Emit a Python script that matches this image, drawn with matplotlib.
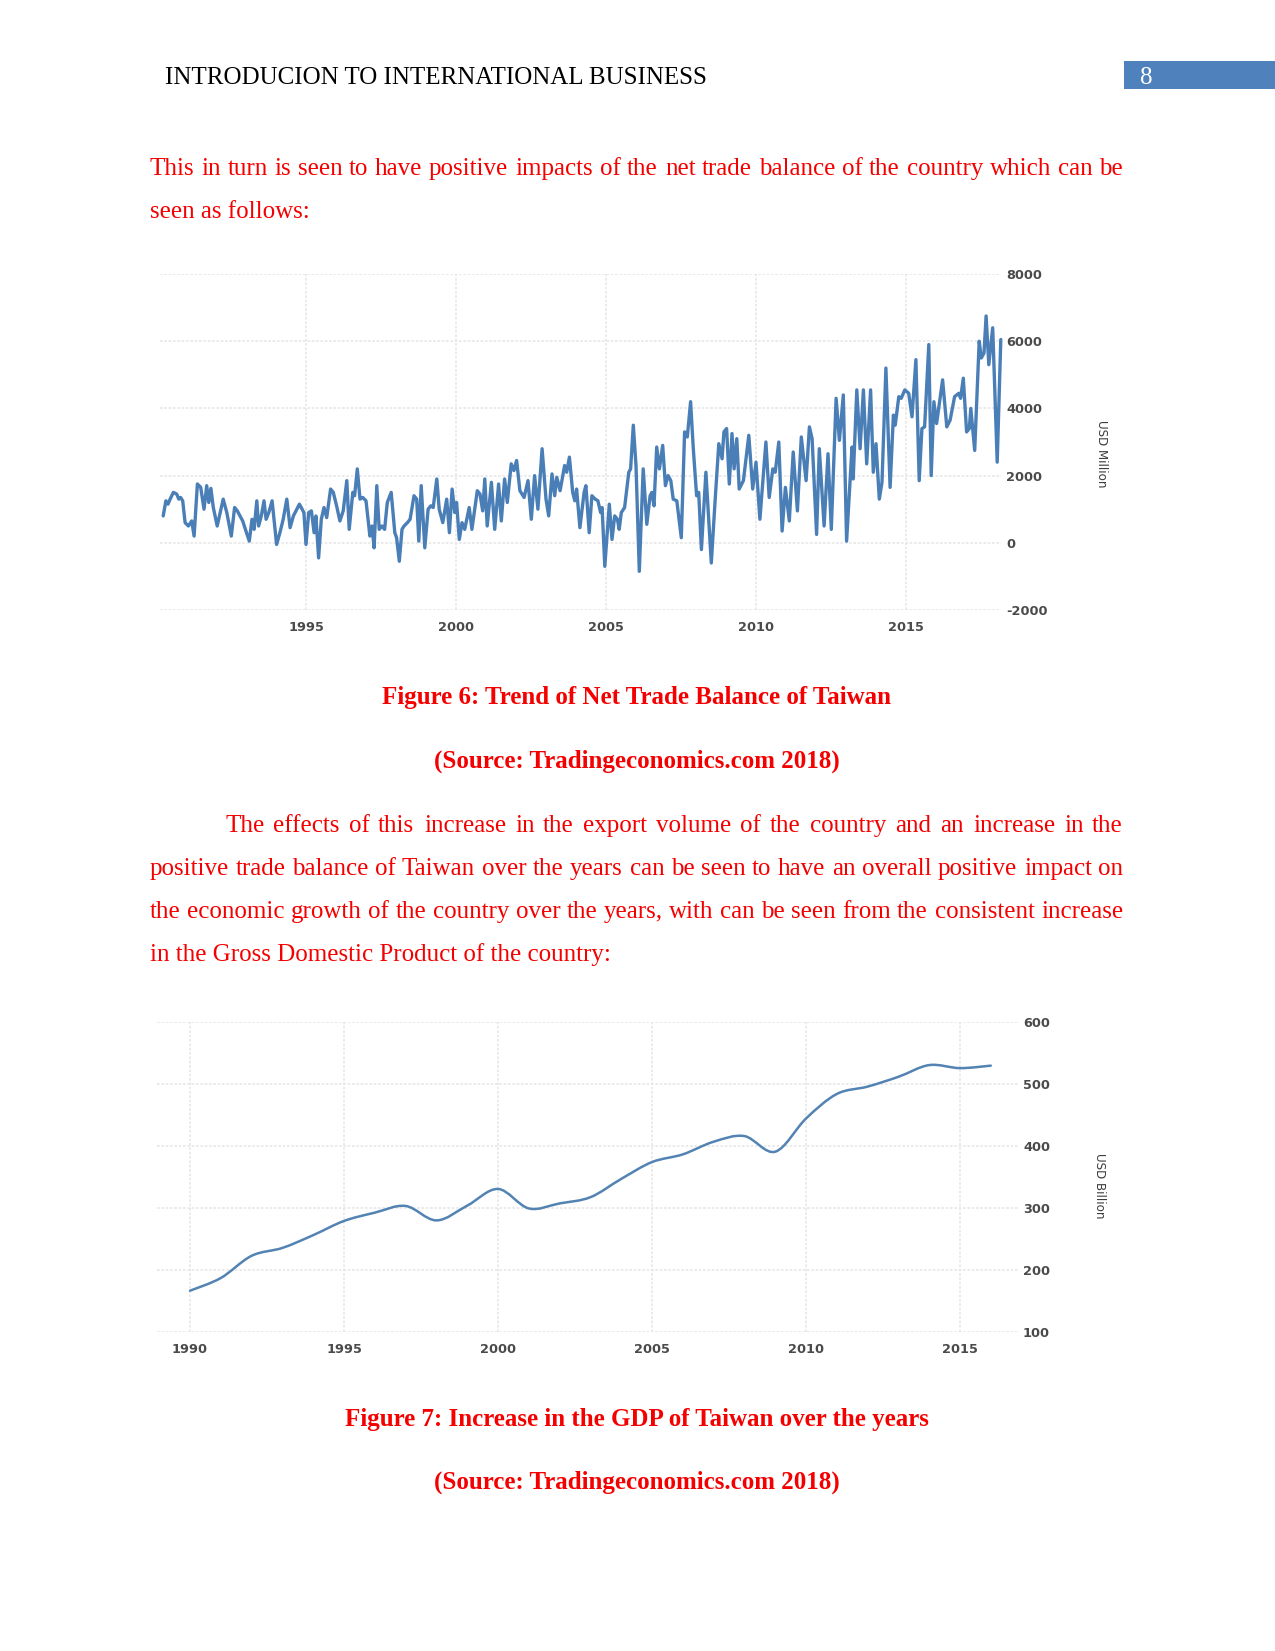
import matplotlib
matplotlib.use("Agg")
import matplotlib.pyplot as plt
from matplotlib.path import Path
from matplotlib.patches import PathPatch, Rectangle
import numpy as np

# ---------------- data ----------------
trade_dates = [
    1990.24, 1990.33, 1990.40, 1990.47, 1990.58, 1990.69, 1990.76, 1990.82, 1990.89, 1990.97,
    1991.08, 1991.19, 1991.27, 1991.38, 1991.49, 1991.60, 1991.69, 1991.76, 1991.83, 1991.91,
    1992.04, 1992.24, 1992.36, 1992.51, 1992.62, 1992.71, 1992.80, 1992.89, 1992.98,
    1993.11, 1993.20, 1993.27, 1993.36, 1993.42, 1993.51, 1993.60, 1993.67, 1993.76, 1993.87,
    1994.02, 1994.13, 1994.24, 1994.36, 1994.47, 1994.58, 1994.78, 1994.93,
    1995.00, 1995.09, 1995.18, 1995.27, 1995.33, 1995.42, 1995.51, 1995.60, 1995.69, 1995.82, 1995.91,
    1996.02, 1996.13, 1996.24, 1996.36, 1996.44, 1996.56, 1996.62, 1996.71, 1996.80, 1996.89,
    1997.00, 1997.13, 1997.20, 1997.27, 1997.36, 1997.44, 1997.53, 1997.62, 1997.71, 1997.84, 1997.96,
    1998.02, 1998.11, 1998.20, 1998.27, 1998.38, 1998.47, 1998.60, 1998.69, 1998.76, 1998.84, 1998.96,
    1999.07, 1999.16, 1999.24, 1999.36, 1999.44, 1999.56,
    1999.69, 1999.78, 1999.87, 1999.96,
    2000.02, 2000.11, 2000.20, 2000.29, 2000.44, 2000.53, 2000.71, 2000.80, 2000.89, 2000.96,
    2001.04, 2001.18, 2001.29, 2001.42, 2001.51, 2001.62, 2001.71, 2001.84, 2001.93,
    2002.02, 2002.13, 2002.27, 2002.40, 2002.51, 2002.62, 2002.73, 2002.87,
    2003.00, 2003.09, 2003.20, 2003.29, 2003.36, 2003.47, 2003.62, 2003.69, 2003.78, 2003.89, 2003.96,
    2004.02, 2004.13, 2004.27,
    2004.33, 2004.44, 2004.53, 2004.64, 2004.73, 2004.82, 2004.87, 2004.96,
    2005.11, 2005.20, 2005.29, 2005.38, 2005.44, 2005.51, 2005.62, 2005.76, 2005.82, 2005.91,
    2006.00, 2006.11, 2006.24, 2006.36, 2006.47, 2006.53, 2006.60, 2006.69, 2006.78, 2006.89, 2006.98,
    2007.07, 2007.16, 2007.24, 2007.36, 2007.51, 2007.62, 2007.71, 2007.82, 2007.91,
    2008.02, 2008.09, 2008.18, 2008.33, 2008.51, 2008.64, 2008.76, 2008.87, 2008.93,
    2009.02, 2009.11, 2009.20, 2009.27, 2009.36, 2009.44, 2009.58, 2009.76, 2009.89,
    2010.00, 2010.13, 2010.33, 2010.44, 2010.56, 2010.64, 2010.76, 2010.87, 2010.98,
    2011.11, 2011.24, 2011.38, 2011.51, 2011.67, 2011.78, 2011.87,
    2012.02, 2012.11, 2012.27, 2012.40, 2012.51, 2012.67, 2012.78, 2012.91,
    2013.02, 2013.20, 2013.24, 2013.36, 2013.47, 2013.58,
    2013.69, 2013.82, 2013.91,
    2014.00, 2014.11, 2014.20, 2014.33, 2014.47, 2014.58, 2014.64, 2014.76, 2014.84, 2014.96,
    2015.09, 2015.20, 2015.33, 2015.44, 2015.53, 2015.62, 2015.76, 2015.84, 2015.93,
    2016.02, 2016.22, 2016.36, 2016.47, 2016.62, 2016.76, 2016.82, 2016.91,
    2017.02, 2017.11, 2017.16, 2017.29, 2017.44, 2017.51, 2017.60, 2017.67, 2017.76, 2017.89,
    2018.04, 2018.16,
]
trade_values = [
    800, 1250, 1150, 1300, 1500, 1450, 1300, 1350, 1250, 600,
    500, 650, 200, 1750, 1650, 1000, 1700, 1200, 1620, 1050,
    500, 1300, 900, 200, 1050, 950, 800, 650, 400,
    50, 700, 400, 1250, 500, 800, 1250, 700, 900, 1250,
    -50, 300, 700, 1300, 450, 800, 1150, 900,
    -50, 900, 950, 300, 800, -450, 700, 1050, 750, 1600, 1500,
    1100, 650, 950, 1850, 400, 1500, 1400, 2200, 1300, 1350,
    1250, 200, 500, -150, 1700, 400, 500, 400, 1200, 1500, 300,
    150, -550, 400, 500, 600, 700, 1400, 1300, 50, 1700, -150,
    1000, 1100, 1050, 1900, 1000, 600,
    1300, 300, 1600, 900,
    1200, 100, 600, 400, 1050, 400, 1550, 1450, 950, 1900,
    500, 1800, 400, 1750, 650, 1900, 1200, 2350, 2150,
    2450, 1550, 1350, 1850, 700, 2000, 1000, 2800,
    1300, 800, 2050, 1400, 1950, 1550, 2300, 2100, 2550, 1500, 1250,
    1600, 450, 1500,
    1700, 300, 1400, 1300, 1250, 900, 1050, -700,
    1150, 100, 800, 700, 400, 900, 1050, 2100, 2200, 3500,
    2300, -850, 2200, 550, 1400, 1500, 1100, 2850, 2200, 2900, 1700,
    2000, 1850, 1300, 1250, 150, 3300, 3150, 4200, 2800,
    1400, 1500, -200, 2100, -600, 1300, 2950, 2500, 3300,
    3400, 1750, 3250, 2200, 3100, 1600, 1850, 3200, 1600,
    2400, 700, 3000, 1350, 2200, 2100, 3000, 350, 1650,
    650, 2700, 950, 3150, 1850, 3450, 3100,
    250, 2800, 500, 2650, 400, 4300, 3050, 4400,
    50, 2850, 1900, 4550, 2800, 4550,
    2350, 4550, 2100,
    2950, 1300, 1800, 5200, 1650, 3800, 3500, 4350, 4300, 4550,
    4450, 3750, 5450, 1850, 3400, 3450, 5900, 2000, 4200,
    3550, 4850, 3450, 3650, 4350, 4450, 4300, 4900,
    3300, 3400, 4000, 2750, 6000, 5500, 5650, 6750, 5300, 6400,
    2400, 6050,
]
trade_xticks = [1995, 2000, 2005, 2010, 2015]
trade_yticks = [-2000, 0, 2000, 4000, 6000, 8000]

gdp_years = list(range(1990, 2017))
gdp_values = [166.6, 187.1, 222.9, 235.6, 256.2, 279.1, 292.5, 303.3, 280.0, 303.8,
              330.7, 299.3, 307.4, 317.4, 346.9, 374.1, 386.5, 406.9, 416.0, 390.8,
              444.3, 483.9, 495.8, 511.6, 530.5, 525.6, 529.6]
gdp_xticks = [1990, 1995, 2000, 2005, 2010, 2015]
gdp_yticks = [100, 200, 300, 400, 500, 600]

header_text = "INTRODUCION TO INTERNATIONAL BUSINESS"
page_number = "8"
intro_lines = ["This in turn is seen to have positive impacts of the net trade balance of the country which can be",
               "seen as follows:"]
caption1 = "Figure 6: Trend of Net Trade Balance of Taiwan"
source_text = "(Source: Tradingeconomics.com 2018)"
para_lines = ["The effects of this increase in the export volume of the country and an increase in the",
              "positive trade balance of Taiwan over the years can be seen to have an overall positive impact on",
              "the economic growth of the country over the years, with can be seen from the consistent increase",
              "in the Gross Domestic Product of the country:"]
caption2 = "Figure 7: Increase in the GDP of Taiwan over the years"

# ---------------- figure ----------------
W, H, DPI = 1275, 1651, 150
fig = plt.figure(figsize=(W / DPI, H / DPI), dpi=DPI)
fig.patch.set_facecolor("white")


def fx(x):
    return x / W


def fy(y):
    return 1 - y / H


SERIF = "Liberation Serif"
RED = "#F50000"
BLUE_LINE = "#4A7EB6"
renderer = fig.canvas.get_renderer()


def put(x, y, s, **kw):
    return fig.text(fx(x), fy(y), s, va="baseline", **kw)


def justified(line, x0, x1, ybase, **kw):
    words = line.split()
    texts = [fig.text(0, fy(ybase), w, va="baseline", ha="left", **kw) for w in words]
    widths = [t.get_window_extent(renderer).width for t in texts]
    gap = (x1 - x0 - sum(widths)) / (len(words) - 1)
    x = x0
    for t, w in zip(texts, widths):
        t.set_x(fx(round(x)))
        x += w + gap


# header
put(165, 84, header_text, ha="left", fontfamily=SERIF, fontsize=12, color="black")
fig.patches.append(Rectangle((fx(1124), fy(89)), 151 / W, 28 / H, transform=fig.transFigure,
                             facecolor="#4F81BD", edgecolor="none"))
put(1146, 84, page_number, ha="center", fontfamily=SERIF, fontsize=12, color="white")

# body text
LM, RM = 150, 1123
body = dict(fontfamily=SERIF, fontsize=12, color=RED)
justified(intro_lines[0], LM, RM, 175, **body)
put(LM, 218, intro_lines[1], ha="left", **body)

capt = dict(fontfamily=SERIF, fontsize=12, color=RED, fontweight="bold", ha="center")
put(637, 704, caption1, **capt)
put(637, 768, source_text, **capt)

justified(para_lines[0], 225, RM, 832, **body)
justified(para_lines[1], LM, RM, 875, **body)
justified(para_lines[2], LM, RM, 918, **body)
put(LM, 961, para_lines[3], ha="left", **body)

put(637, 1426, caption2, **capt)
put(637, 1489, source_text, **capt)

tick_kw = dict(fontfamily="DejaVu Sans", fontsize=6.2, fontweight="bold", color="#4a4a4a")
grid_kw = dict(color="#e8e8e8", lw=0.8, ls=(0, (1.6, 1.0)))


def style_axes(ax):
    for s in ax.spines.values():
        s.set_visible(False)
    ax.set_facecolor("none")
    ax.grid(True, **grid_kw)
    ax.set_axisbelow(True)
    ax.yaxis.tick_right()
    ax.tick_params(length=0)
    for lab in ax.get_xticklabels() + ax.get_yticklabels():
        lab.set_fontfamily(tick_kw["fontfamily"])
        lab.set_fontsize(tick_kw["fontsize"])
        lab.set_fontweight(tick_kw["fontweight"])
        lab.set_color(tick_kw["color"])


# ---- chart 1: net trade balance ----
L1, R1, T1, B1 = 160, 1001, 274, 610
ax1 = fig.add_axes([fx(L1), fy(B1), (R1 - L1) / W, (B1 - T1) / H])


def yr1(px):
    return 2000 + (px - 456) / 30.0


ax1.set_xlim(yr1(L1), yr1(R1))
ax1.set_ylim(-2000, 8000)
ax1.set_xticks(trade_xticks)
ax1.set_yticks(trade_yticks)
ax1.set_xticklabels([str(v) for v in trade_xticks])
ax1.set_yticklabels([str(v) for v in trade_yticks])
ax1.plot(trade_dates, trade_values, color=BLUE_LINE, lw=1.6, solid_joinstyle="round",
         solid_capstyle="round", clip_on=False)
style_axes(ax1)
ax1.tick_params(axis="y", pad=2.4)
ax1.tick_params(axis="x", pad=5.2)
put(1101, 454, "USD Million", rotation=270, ha="center", fontfamily="DejaVu Sans",
    fontsize=5.7, color="#3c3c3c").set_va("center")

# ---- chart 2: GDP ----
L2, R2, T2, B2 = 157, 1018, 1022, 1332
ax2 = fig.add_axes([fx(L2), fy(B2), (R2 - L2) / W, (B2 - T2) / H])


def yr2(px):
    return 1990 + (px - 190) / 30.8


ax2.set_xlim(yr2(L2), yr2(R2))
ax2.set_ylim(100, 600)
ax2.set_xticks(gdp_xticks)
ax2.set_yticks(gdp_yticks)
ax2.set_xticklabels([str(v) for v in gdp_xticks])
ax2.set_yticklabels([str(v) for v in gdp_yticks])

# smooth spline-style rendering through the annual points (Catmull-Rom -> cubic Bezier)
xs = np.array(gdp_years, dtype=float)
ys = np.array(gdp_values, dtype=float)
verts = [(xs[0], ys[0])]
codes = [Path.MOVETO]
n = len(xs)
for i in range(n - 1):
    p0 = np.array([xs[max(i - 1, 0)], ys[max(i - 1, 0)]])
    p1 = np.array([xs[i], ys[i]])
    p2 = np.array([xs[i + 1], ys[i + 1]])
    p3 = np.array([xs[min(i + 2, n - 1)], ys[min(i + 2, n - 1)]])
    c1 = p1 + (p2 - p0) / 6.0
    c2 = p2 - (p3 - p1) / 6.0
    verts += [tuple(c1), tuple(c2), tuple(p2)]
    codes += [Path.CURVE4, Path.CURVE4, Path.CURVE4]
ax2.add_patch(PathPatch(Path(verts, codes), facecolor="none", edgecolor="#5283B2",
                        lw=1.2, capstyle="round", joinstyle="round"))
style_axes(ax2)
ax2.tick_params(axis="y", pad=2.4)
ax2.tick_params(axis="x", pad=5.2)
put(1100, 1186, "USD Billion", rotation=270, ha="center", fontfamily="DejaVu Sans",
    fontsize=5.7, color="#3c3c3c").set_va("center")

fig.savefig("out.png", dpi=DPI, facecolor="white")
